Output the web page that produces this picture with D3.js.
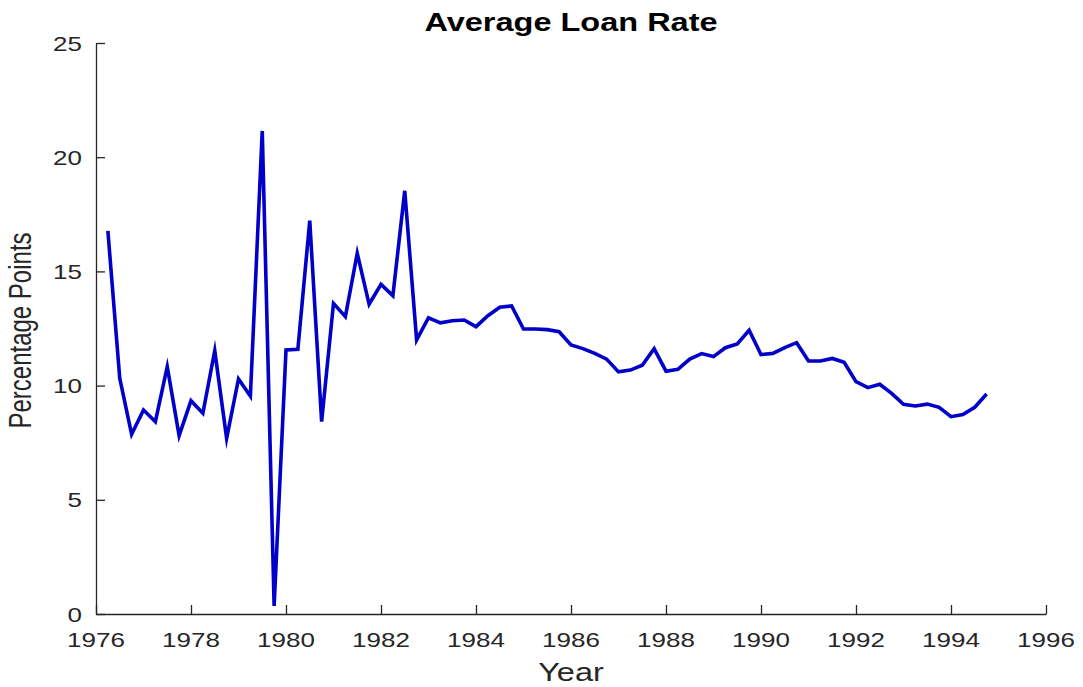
<!DOCTYPE html>
<html>
<head>
<meta charset="utf-8">
<script src="https://cdn.jsdelivr.net/npm/d3@7/dist/d3.min.js"></script>
<style>
  html, body { margin: 0; padding: 0; background: #fff; }
  svg { display: block; }
  text { font-family: "Liberation Sans", Arial, Helvetica, sans-serif; }
</style>
</head>
<body>
<svg id="chart" width="1083" height="687"></svg>
<script>
// Quarterly observations, first quarter shown is 1976.25
const startYear = 1976.25;
const loanRate = [
  16.77, 10.32, 7.87, 8.93, 8.42, 10.83, 7.81, 9.34, 8.79, 11.53,
  7.69, 10.29, 9.54, 21.15, 0.35, 11.56, 11.59, 17.22, 8.42, 13.60,
  13.02, 15.79, 13.56, 14.43, 13.94, 18.53, 12.00, 12.97, 12.75, 12.84,
  12.87, 12.58, 13.06, 13.43, 13.49, 12.48, 12.48, 12.45, 12.36, 11.78,
  11.62, 11.41, 11.16, 10.60, 10.68, 10.89, 11.62, 10.63, 10.71, 11.16,
  11.40, 11.27, 11.66, 11.82, 12.42, 11.36, 11.41, 11.66, 11.88, 11.08,
  11.08, 11.19, 11.02, 10.17, 9.91, 10.06, 9.66, 9.18, 9.11, 9.19,
  9.05, 8.64, 8.73, 9.05, 9.63
];
const xTicks = [1976, 1978, 1980, 1982, 1984, 1986, 1988, 1990, 1992, 1994, 1996];
const yTicks = [0, 5, 10, 15, 20, 25];
const titleText = "Average Loan Rate";
const xLabelText = "Year";
const yLabelText = "Percentage Points";

const series = loanRate.map((v, i) => ({ t: startYear + i * 0.25, v }));

const svg = d3.select("#chart");
const plot = { left: 96, right: 1046, top: 43, bottom: 614 };
const axisColor = "#262626";
const stretch = 1.3;   // horizontal text stretch
const tickLen = 9;

const x = d3.scaleLinear().domain([1976, 1996]).range([plot.left, plot.right]);
const y = d3.scaleLinear().domain([0, 25]).range([plot.bottom, plot.top]);

// x axis (ticks point into the plot)
const xAxis = svg.append("g")
  .attr("transform", `translate(0,${plot.bottom})`)
  .call(d3.axisBottom(x).tickValues(xTicks).tickSizeInner(-tickLen).tickSizeOuter(0).tickFormat(d3.format("d")));
xAxis.select(".domain").attr("stroke", axisColor).attr("stroke-width", 1.3);
xAxis.selectAll(".tick line").attr("stroke", axisColor).attr("stroke-width", 1.3);
xAxis.selectAll(".tick text").remove();

// y axis
const yAxis = svg.append("g")
  .attr("transform", `translate(${plot.left},0)`)
  .call(d3.axisLeft(y).tickValues(yTicks).tickSizeInner(-tickLen).tickSizeOuter(0));
yAxis.select(".domain").attr("stroke", axisColor).attr("stroke-width", 1.3);
yAxis.selectAll(".tick line").attr("stroke", axisColor).attr("stroke-width", 1.3);
yAxis.selectAll(".tick text").remove();

// tick labels, drawn with a horizontal stretch
svg.append("g").selectAll("text").data(xTicks).join("text")
  .attr("transform", d => `translate(${x(d)},647) scale(${stretch},1)`)
  .attr("text-anchor", "middle")
  .attr("font-size", 20)
  .attr("fill", axisColor)
  .text(d => d);

svg.append("g").selectAll("text").data(yTicks).join("text")
  .attr("transform", d => `translate(82,${y(d) + 7.5}) scale(${stretch},1)`)
  .attr("text-anchor", "end")
  .attr("font-size", 20)
  .attr("fill", axisColor)
  .text(d => d);

// series line
const line = d3.line().x(d => x(d.t)).y(d => y(d.v));
svg.append("path")
  .datum(series)
  .attr("fill", "none")
  .attr("stroke", "#0000c8")
  .attr("stroke-width", 3.6)
  .attr("stroke-linejoin", "miter")
  .attr("stroke-miterlimit", 10)
  .attr("d", line);

// title and axis labels
svg.append("text")
  .attr("transform", `translate(${(plot.left + plot.right) / 2},31) scale(${stretch},1)`)
  .attr("text-anchor", "middle")
  .attr("font-size", 25)
  .attr("font-weight", "bold")
  .attr("fill", "#000")
  .text(titleText);

svg.append("text")
  .attr("transform", `translate(${(plot.left + plot.right) / 2},681) scale(${stretch},1)`)
  .attr("text-anchor", "middle")
  .attr("font-size", 25)
  .attr("fill", axisColor)
  .text(xLabelText);

svg.append("text")
  .attr("transform", `translate(31,${(plot.top + plot.bottom) / 2 + 2}) scale(${stretch},1) rotate(-90)`)
  .attr("text-anchor", "middle")
  .attr("font-size", 24)
  .attr("fill", axisColor)
  .text(yLabelText);
</script>
</body>
</html>
